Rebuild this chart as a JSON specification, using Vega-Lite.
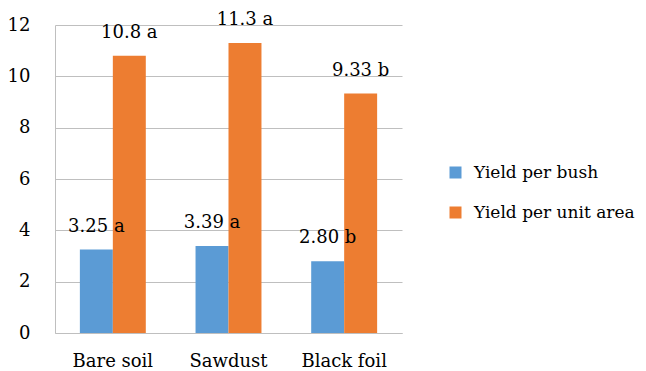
{
  "$schema": "https://vega.github.io/schema/vega-lite/v6.json",
  "width": 347,
  "height": 308,
  "autosize": "none",
  "padding": {"left": 55, "top": 25, "right": 244, "bottom": 38},
  "background": "white",
  "config": {
    "font": "DejaVu Serif",
    "view": {"stroke": null},
    "axis": {
      "labelFont": "DejaVu Serif",
      "labelFontSize": 18,
      "labelColor": "#000000",
      "domainColor": "#bfbfbf",
      "gridColor": "#bfbfbf",
      "ticks": false,
      "tickSize": 0,
      "title": null
    }
  },
  "data": {
    "values": [
      {"site": "Bare soil", "series": "Yield per bush", "value": 3.25, "label": "3.25 a"},
      {"site": "Bare soil", "series": "Yield per unit area", "value": 10.8, "label": "10.8 a"},
      {"site": "Sawdust", "series": "Yield per bush", "value": 3.39, "label": "3.39 a"},
      {"site": "Sawdust", "series": "Yield per unit area", "value": 11.3, "label": "11.3 a"},
      {"site": "Black foil", "series": "Yield per bush", "value": 2.80, "label": "2.80 b"},
      {"site": "Black foil", "series": "Yield per unit area", "value": 9.33, "label": "9.33 b"}
    ]
  },
  "encoding": {
    "x": {
      "field": "site",
      "type": "nominal",
      "sort": ["Bare soil", "Sawdust", "Black foil"],
      "scale": {"paddingInner": 0.43, "paddingOuter": 0.215},
      "axis": {"labelAngle": 0, "labelPadding": 19, "domain": true, "grid": false}
    },
    "xOffset": {"field": "series", "type": "nominal", "sort": ["Yield per bush", "Yield per unit area"]},
    "y": {
      "field": "value",
      "type": "quantitative",
      "scale": {"domain": [0, 12], "nice": false},
      "axis": {"values": [0, 2, 4, 6, 8, 10, 12], "labelPadding": 25, "grid": true, "domain": true}
    }
  },
  "layer": [
    {
      "mark": {"type": "bar"},
      "encoding": {
        "color": {
          "field": "series",
          "type": "nominal",
          "scale": {"domain": ["Yield per bush", "Yield per unit area"], "range": ["#5b9bd5", "#ed7d31"]},
          "legend": {
            "title": null,
            "orient": "none",
            "legendX": 392,
            "legendY": 139,
            "symbolType": "square",
            "symbolSize": 144,
            "symbolStrokeWidth": 0,
            "labelFont": "DejaVu Serif",
            "labelFontSize": 17,
            "labelColor": "#000000",
            "labelOffset": 10,
            "labelLimit": 300,
            "rowPadding": 22
          }
        }
      }
    },
    {
      "mark": {"type": "text", "baseline": "alphabetic", "dy": -18, "fontSize": 18, "font": "DejaVu Serif", "color": "#000000"},
      "encoding": {"text": {"field": "label"}}
    }
  ]
}
